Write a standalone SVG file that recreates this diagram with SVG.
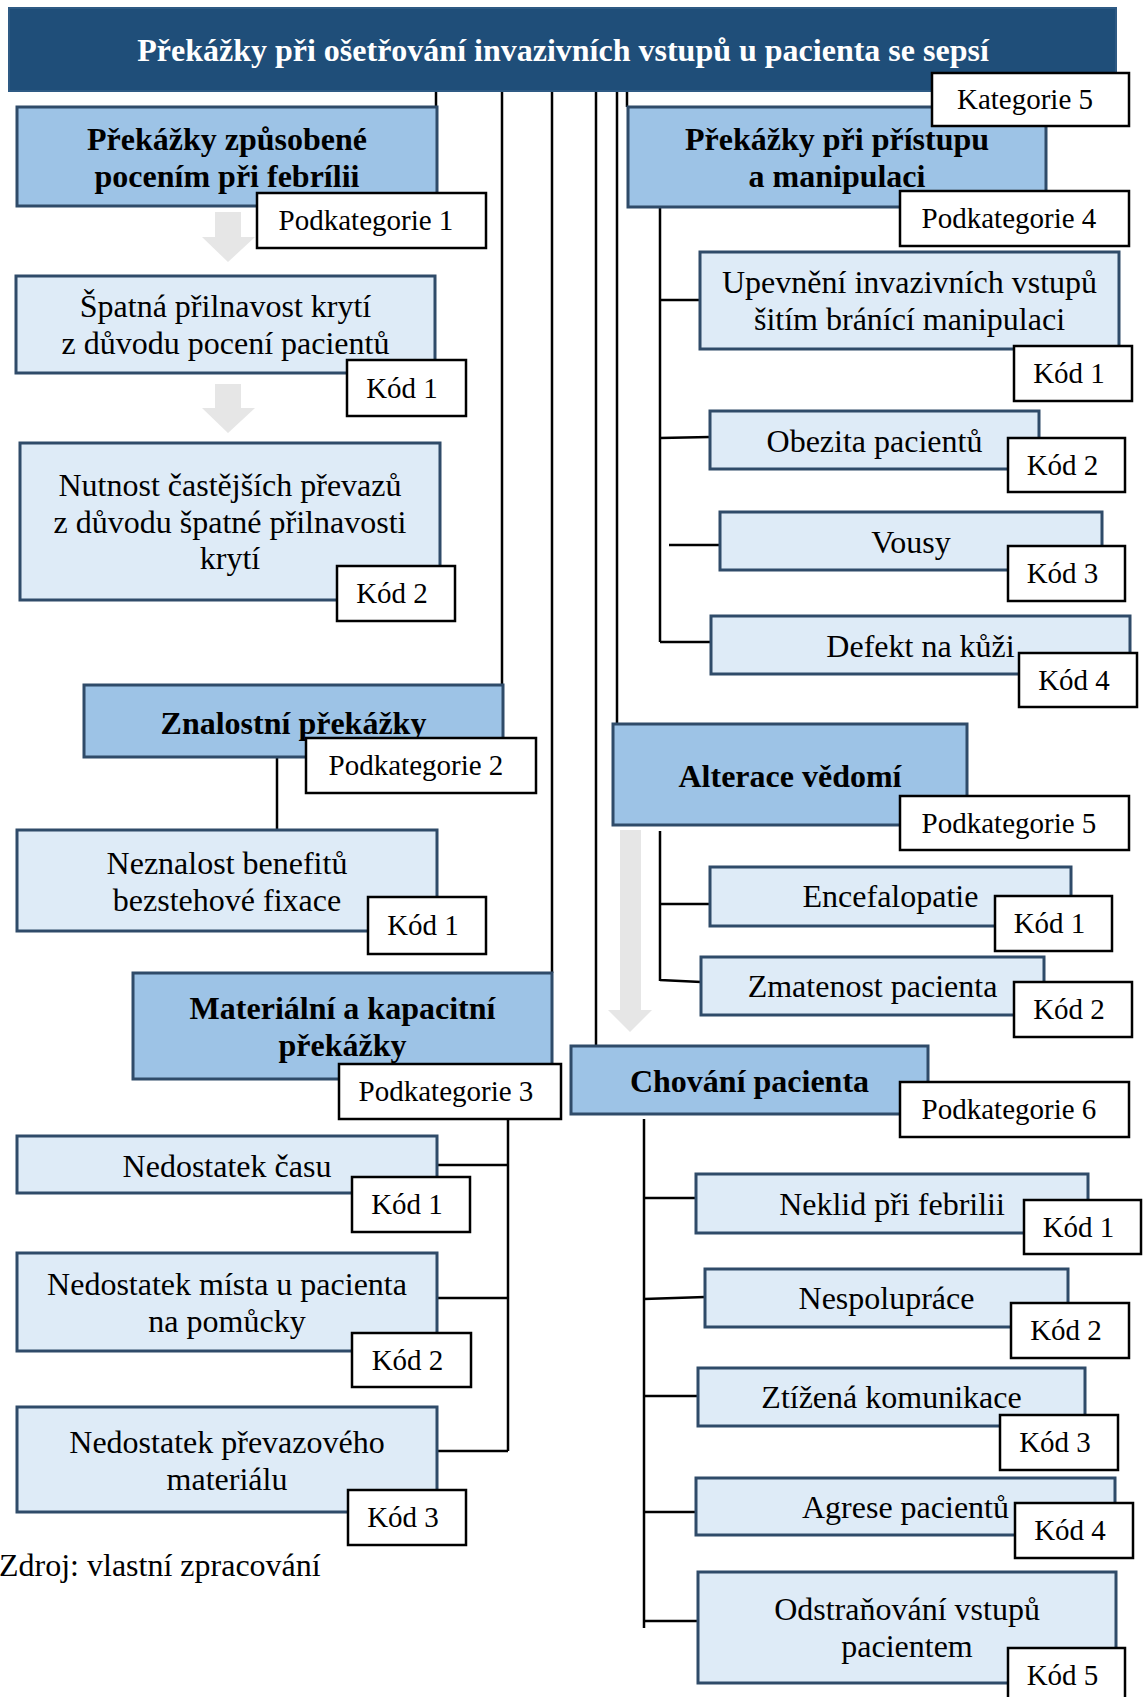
<svg xmlns="http://www.w3.org/2000/svg" width="1144" height="1697" viewBox="0 0 1144 1697">
<style>
.t{font-family:"Liberation Serif","Times New Roman",serif;font-size:32px;text-anchor:middle;fill:#000}
.b{font-weight:bold}
.l{font-size:29px}
.w{fill:#fff}
.top{fill:#1F4E79;stroke:#2E5A84;stroke-width:2}
.hd{fill:#9DC3E6;stroke:#2F4B69;stroke-width:3}
.it{fill:#DEEBF7;stroke:#2F4B69;stroke-width:3}
.lb{fill:#fff;stroke:#000;stroke-width:2.5}
.cn{stroke:#000;stroke-width:2.5;fill:none}
.ar{fill:#E6E6E6}
</style>
<rect width="1144" height="1697" fill="#fff"/>
<g id="connectors" class="cn">
<path d="M436,91V107M502,91V685M552,91V973M596,91V1046M617,91V724M627,91V107"/>
<path d="M277,757V830"/>
<path d="M508,1119V1451M437,1165H508M437,1298H508M437,1451H508"/>
<path d="M660,207V642M660,300H700M660,438L710,437M669,545H720M660,642H712"/>
<path d="M660,831V981M660,904H710M660,980L701,982"/>
<path d="M644,1119V1628M644,1198H696M644,1299L705,1297M644,1396H698M644,1512H696M644,1621H698"/>
</g>
<g id="arrows" class="ar">
<polygon points="215,212 241,212 241,237 255,237 228,262 202,237 215,237"/>
<polygon points="215,384 241,384 241,408 255,408 228,433 202,408 215,408"/>
<polygon points="620,830 641,830 641,1010 652,1010 630,1032 608,1010 620,1010"/>
</g>
<g id="title">
<rect class="top" x="9" y="8" width="1107" height="83"/>
<text class="t b w" x="563" y="61">Překážky při ošetřování invazivních vstupů u pacienta se sepsí</text>
</g>
<g id="pk1">
<rect class="hd" x="17" y="107" width="420" height="99"/>
<text class="t b" x="227" y="150">Překážky způsobené</text>
<text class="t b" x="227" y="187">pocením při febrílii</text>
<rect class="lb" x="257" y="193" width="229" height="55"/>
<text class="t l" x="366" y="230">Podkategorie 1</text>
</g>
<g id="pk1-k1">
<rect class="it" x="16" y="276" width="419" height="97"/>
<text class="t" x="225.5" y="317">Špatná přilnavost krytí</text>
<text class="t" x="225.5" y="354">z důvodu pocení pacientů</text>
<rect class="lb" x="347" y="360" width="119" height="56"/>
<text class="t l" x="402" y="398">Kód 1</text>
</g>
<g id="pk1-k2">
<rect class="it" x="20" y="443" width="420" height="157"/>
<text class="t" x="230" y="496">Nutnost častějších převazů</text>
<text class="t" x="230" y="533">z důvodu špatné přilnavosti</text>
<text class="t" x="230" y="569">krytí</text>
<rect class="lb" x="337" y="566" width="118" height="55"/>
<text class="t l" x="392" y="603">Kód 2</text>
</g>
<g id="pk2">
<rect class="hd" x="84" y="685" width="419" height="72"/>
<text class="t b" x="293.5" y="734">Znalostní překážky</text>
<rect class="lb" x="306" y="738" width="230" height="55"/>
<text class="t l" x="416" y="775">Podkategorie 2</text>
</g>
<g id="pk2-k1">
<rect class="it" x="17" y="830" width="420" height="101"/>
<text class="t" x="227" y="874">Neznalost benefitů</text>
<text class="t" x="227" y="911">bezstehové fixace</text>
<rect class="lb" x="368" y="897" width="118" height="57"/>
<text class="t l" x="423" y="935">Kód 1</text>
</g>
<g id="pk3">
<rect class="hd" x="133" y="973" width="419" height="106"/>
<text class="t b" x="342.5" y="1019">Materiální a kapacitní</text>
<text class="t b" x="342.5" y="1056">překážky</text>
<rect class="lb" x="339" y="1064" width="222" height="55"/>
<text class="t l" x="446" y="1101">Podkategorie 3</text>
</g>
<g id="pk3-k1">
<rect class="it" x="17" y="1136" width="420" height="57"/>
<text class="t" x="227" y="1177">Nedostatek času</text>
<rect class="lb" x="352" y="1177" width="118" height="55"/>
<text class="t l" x="407" y="1214">Kód 1</text>
</g>
<g id="pk3-k2">
<rect class="it" x="17" y="1253" width="420" height="98"/>
<text class="t" x="227" y="1295">Nedostatek místa u pacienta</text>
<text class="t" x="227" y="1332">na pomůcky</text>
<rect class="lb" x="352" y="1333" width="119" height="54"/>
<text class="t l" x="407.5" y="1370">Kód 2</text>
</g>
<g id="pk3-k3">
<rect class="it" x="17" y="1407" width="420" height="105"/>
<text class="t" x="227" y="1453">Nedostatek převazového</text>
<text class="t" x="227" y="1490">materiálu</text>
<rect class="lb" x="348" y="1490" width="118" height="55"/>
<text class="t l" x="403" y="1527">Kód 3</text>
</g>
<g id="source">
<text class="t" x="-1" y="1576" style="text-anchor:start">Zdroj: vlastní zpracování</text>
</g>
<g id="pk4">
<rect class="hd" x="628" y="107" width="418" height="100"/>
<text class="t b" x="837" y="150">Překážky při přístupu</text>
<text class="t b" x="837" y="187">a manipulaci</text>
<rect class="lb" x="900" y="191" width="229" height="55"/>
<text class="t l" x="1009" y="228">Podkategorie 4</text>
</g>
<g id="pk4-k1">
<rect class="it" x="700" y="252" width="419" height="97"/>
<text class="t" x="909.5" y="293">Upevnění invazivních vstupů</text>
<text class="t" x="909.5" y="330">šitím bránící manipulaci</text>
<rect class="lb" x="1014" y="346" width="118" height="55"/>
<text class="t l" x="1069" y="383">Kód 1</text>
</g>
<g id="pk4-k2">
<rect class="it" x="710" y="411" width="329" height="58"/>
<text class="t" x="874.5" y="452">Obezita pacientů</text>
<rect class="lb" x="1008" y="438" width="117" height="54"/>
<text class="t l" x="1062.5" y="475">Kód 2</text>
</g>
<g id="pk4-k3">
<rect class="it" x="720" y="512" width="382" height="58"/>
<text class="t" x="911" y="553">Vousy</text>
<rect class="lb" x="1008" y="546" width="117" height="55"/>
<text class="t l" x="1062.5" y="583">Kód 3</text>
</g>
<g id="pk4-k4">
<rect class="it" x="711" y="616" width="419" height="58"/>
<text class="t" x="920.5" y="657">Defekt na kůži</text>
<rect class="lb" x="1019" y="653" width="118" height="54"/>
<text class="t l" x="1074" y="690">Kód 4</text>
</g>
<g id="pk5">
<rect class="hd" x="613" y="724" width="354" height="101"/>
<text class="t b" x="790" y="787">Alterace vědomí</text>
<rect class="lb" x="900" y="796" width="229" height="54"/>
<text class="t l" x="1009" y="833">Podkategorie 5</text>
</g>
<g id="pk5-k1">
<rect class="it" x="710" y="867" width="361" height="59"/>
<text class="t" x="890.5" y="907">Encefalopatie</text>
<rect class="lb" x="995" y="896" width="117" height="55"/>
<text class="t l" x="1049.5" y="933">Kód 1</text>
</g>
<g id="pk5-k2">
<rect class="it" x="701" y="957" width="343" height="58"/>
<text class="t" x="872.5" y="997">Zmatenost pacienta</text>
<rect class="lb" x="1014" y="982" width="118" height="55"/>
<text class="t l" x="1069" y="1019">Kód 2</text>
</g>
<g id="pk6">
<rect class="hd" x="571" y="1046" width="357" height="68"/>
<text class="t b" x="749.5" y="1092">Chování pacienta</text>
<rect class="lb" x="900" y="1082" width="229" height="55"/>
<text class="t l" x="1009" y="1119">Podkategorie 6</text>
</g>
<g id="pk6-k1">
<rect class="it" x="696" y="1174" width="392" height="59"/>
<text class="t" x="892" y="1215">Neklid při febrilii</text>
<rect class="lb" x="1024" y="1200" width="117" height="54"/>
<text class="t l" x="1078.5" y="1237">Kód 1</text>
</g>
<g id="pk6-k2">
<rect class="it" x="705" y="1269" width="363" height="58"/>
<text class="t" x="886.5" y="1309">Nespolupráce</text>
<rect class="lb" x="1011" y="1303" width="118" height="55"/>
<text class="t l" x="1066" y="1340">Kód 2</text>
</g>
<g id="pk6-k3">
<rect class="it" x="698" y="1368" width="387" height="58"/>
<text class="t" x="891.5" y="1408">Ztížená komunikace</text>
<rect class="lb" x="1000" y="1415" width="118" height="55"/>
<text class="t l" x="1055" y="1452">Kód 3</text>
</g>
<g id="pk6-k4">
<rect class="it" x="696" y="1478" width="419" height="57"/>
<text class="t" x="905.5" y="1518">Agrese pacientů</text>
<rect class="lb" x="1015" y="1503" width="118" height="55"/>
<text class="t l" x="1070" y="1540">Kód 4</text>
</g>
<g id="pk6-k5">
<rect class="it" x="698" y="1572" width="418" height="111"/>
<text class="t" x="907" y="1620">Odstraňování vstupů</text>
<text class="t" x="907" y="1657">pacientem</text>
<rect class="lb" x="1008" y="1648" width="117" height="60"/>
<text class="t l" x="1062.5" y="1685">Kód 5</text>
</g>
<g id="kategorie">
<rect class="lb" x="932" y="73" width="197" height="53"/>
<text class="t l" x="1025" y="109">Kategorie 5</text>
</g>
</svg>
